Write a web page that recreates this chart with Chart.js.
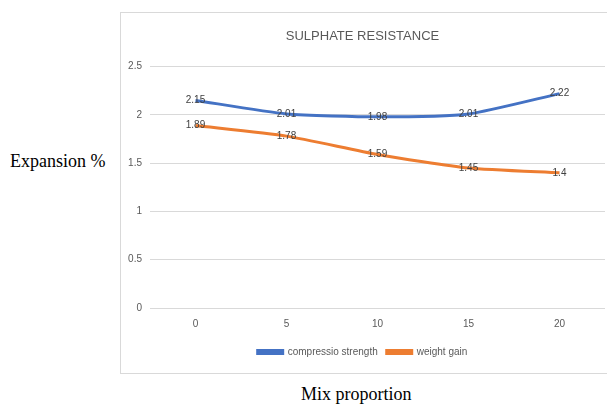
<!DOCTYPE html>
<html>
<head>
<meta charset="utf-8">
<script src="https://cdn.jsdelivr.net/npm/chart.js@4.4.0/dist/chart.umd.min.js"></script>
<style>
  body { margin: 0; background: #fff; width: 607px; height: 405px; overflow: hidden; position: relative; }
  #box { position: absolute; left: 120px; top: 12px; width: 500px; height: 362px; border: 1px solid #d9d9d9; box-sizing: border-box; }
  #wrap { position: absolute; left: 120px; top: 12px; width: 487px; height: 361px; }
  .outer { position: absolute; font-family: "Liberation Serif", "Times New Roman", serif; font-size: 18px; color: #000; white-space: nowrap; }
</style>
</head>
<body>
<div id="box"></div>
<div id="wrap"><canvas id="myChart"></canvas></div>
<div class="outer" style="left:10px; top:151px;">Expansion %</div>
<div class="outer" style="left:301px; top:384px;">Mix proportion</div>
<script>
'use strict';

let categories = ['0', '5', '10', '15', '20'];
let strengthValues = [2.15, 2.01, 1.98, 2.01, 2.22];
let weightValues = [1.89, 1.78, 1.59, 1.45, 1.4];
let yTicks = [0, 0.5, 1, 1.5, 2, 2.5];

let fontName = '"Liberation Sans Narrow", "Liberation Sans", Arial, sans-serif';
let textGray = '#595959';

// draws the value on top of every point, like excel data labels
let pointLabels = {
  id: 'pointLabels',
  afterDatasetsDraw(chart) {
    let ctx = chart.ctx;
    ctx.save();
    ctx.font = '10px ' + fontName;
    ctx.fillStyle = '#404040';
    ctx.textAlign = 'center';
    ctx.textBaseline = 'middle';
    chart.data.datasets.forEach(function (ds, i) {
      let meta = chart.getDatasetMeta(i);
      meta.data.forEach(function (pt, j) {
        ctx.fillText(String(ds.data[j]), pt.x, pt.y);
      });
    });
    ctx.restore();
  }
};

function chartRender() {
  let ctx = document.getElementById('myChart').getContext('2d');
  let chart = new Chart(ctx, {
    type: 'line',
    data: {
      labels: categories,
      datasets: [{
        label: 'compressio strength',
        borderColor: '#4472C4',
        backgroundColor: '#4472C4',
        borderWidth: 3,
        pointRadius: 0,
        tension: 0.2,
        data: strengthValues,
      }, {
        label: 'weight gain',
        borderColor: '#ED7D31',
        backgroundColor: '#ED7D31',
        borderWidth: 3,
        pointRadius: 0,
        tension: 0.2,
        data: weightValues,
      }]
    },
    options: {
      responsive: true,
      maintainAspectRatio: false,
      animation: false,
      layout: { padding: { left: 0, right: 2, top: 0, bottom: 6 } },
      plugins: {
        title: {
          display: true,
          text: 'SULPHATE RESISTANCE',
          color: textGray,
          font: { family: fontName, size: 13, weight: 'normal' },
          padding: { top: 17, bottom: 22 }
        },
        legend: {
          position: 'bottom',
          labels: {
            color: textGray,
            font: { family: fontName, size: 10 },
            boxWidth: 25,
            boxHeight: 3,
            padding: 9
          }
        },
        tooltip: { enabled: false }
      },
      scales: {
        x: {
          offset: true,
          grid: { display: false },
          border: { display: false },
          afterFit: function (scale) { scale.height += 6; },
          ticks: { color: textGray, font: { family: fontName, size: 10 }, padding: 2 },
        },
        y: {
          min: 0,
          max: 2.5,
          afterBuildTicks: function (scale) {
            scale.ticks = yTicks.map(function (v) { return { value: v }; });
          },
          afterFit: function (scale) { scale.width = 30; },
          grid: { color: '#d9d9d9', drawTicks: false },
          border: { display: false },
          ticks: {
            color: textGray,
            font: { family: fontName, size: 10 },
            padding: 8,
            callback: function (v) { return String(v); }
          },
        }
      }
    },
    plugins: [pointLabels]
  });
  return chart;
}

chartRender();
</script>
</body>
</html>
